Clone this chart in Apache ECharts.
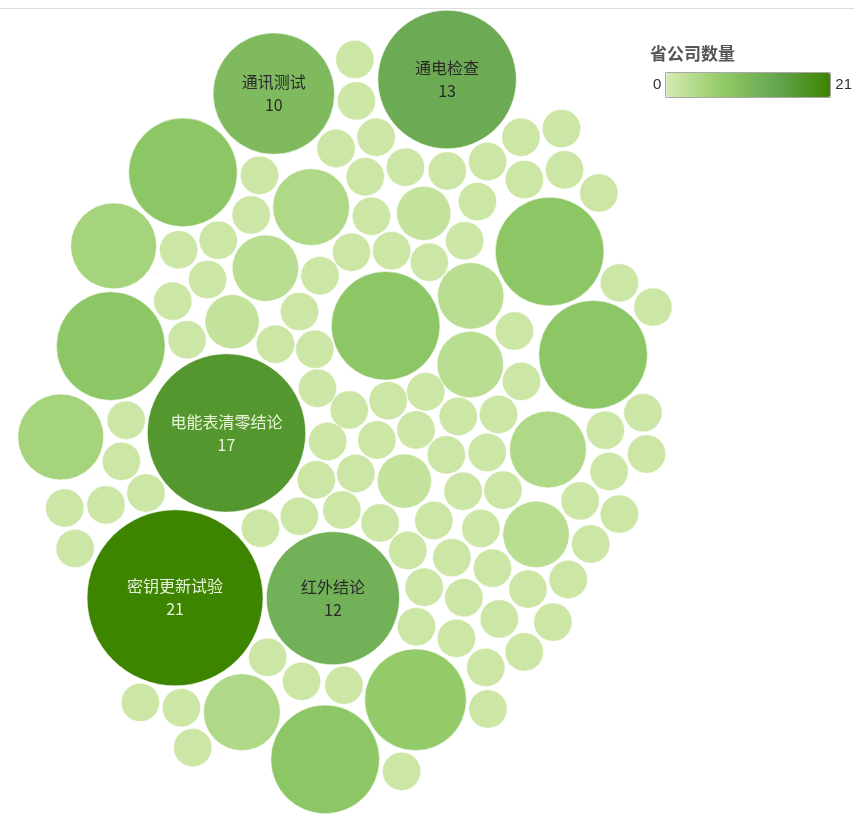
<!DOCTYPE html>
<html>
<head>
<meta charset="utf-8">
<script src="https://cdn.jsdelivr.net/npm/echarts@6/dist/echarts.min.js"></script>
<style>
  html, body { margin: 0; padding: 0; background: #fff; }
  #chart { width: 854px; height: 815px; }
</style>
</head>
<body>
<div id="chart"></div>
<script>
// 各检测项的省公司数量（按气泡排列顺序）
const bubbleCounts = [
  1, 1, 1, 1, 1, 3, 1, 8, 1, 1,
  1, 2, 1, 1, 1, 1, 1, 1, 3, 1,
  1, 1, 1, 1, 1, 1, 1, 1, 1, 3,
  1, 2, 1, 2, 4, 1, 1, 1, 1, 1,
  1, 3, 1, 1, 1, 1, 1, 1, 12, 4,
  1, 17, 1, 1, 1, 1, 21, 1, 1, 1,
  8, 1, 1, 1, 1, 1, 1, 1, 8, 4,
  1, 1, 5, 1, 1, 1, 1, 1, 1, 1,
  8, 1, 1, 1, 1, 1, 1, 7, 1, 1,
  1, 1, 1, 1, 1, 8, 10, 1, 1, 1,
  1, 5, 1, 1, 1, 1, 1, 1, 1, 8,
  1, 1, 13
];
// 气泡名称（只有带名称的气泡显示标签）
const bubbleNames = [
  '', '', '', '', '', '', '', '', '', '',
  '', '', '', '', '', '', '', '', '', '',
  '', '', '', '', '', '', '', '', '', '',
  '', '', '', '', '', '', '', '', '', '',
  '', '', '', '', '', '', '', '', '红外结论', '',
  '', '电能表清零结论', '', '', '', '', '密钥更新试验', '', '', '',
  '', '', '', '', '', '', '', '', '', '',
  '', '', '', '', '', '', '', '', '', '',
  '', '', '', '', '', '', '', '', '', '',
  '', '', '', '', '', '', '通讯测试', '', '', '',
  '', '', '', '', '', '', '', '', '', '',
  '', '', '通电检查'
];
const legendTitle = '省公司数量';
const countMin = 0;
const countMax = 21;
const legendText = ['21', '0'];
const colorStops = ['#d6ebb0', '#93cb68', '#65a650', '#3d8400'];

// 气泡半径与数量的平方根成正比
const RADIUS_UNIT = 19.2;
const GAP = 3;
const WIDTH = 854, HEIGHT = 815;
const CENTER = [345, 412];
const TILT = 12 * Math.PI / 180;   // 收缩主轴的倾斜角

// 力导向式气泡堆积：向日葵螺旋初始位置 + 向心收缩 + 碰撞分离
function packBubbles(counts) {
  const golden = Math.PI * (3 - Math.sqrt(5));
  const spread = 33;
  const nodes = counts.map((c, i) => {
    const rad = spread * Math.sqrt(i + 0.5);
    const a = i * golden;
    return { r: RADIUS_UNIT * Math.sqrt(c), x: rad * Math.cos(a) * 0.9, y: rad * Math.sin(a) * 1.1 };
  });
  const n = nodes.length;
  function collide() {
    for (let i = 0; i < n; i++) {
      const a = nodes[i];
      for (let j = i + 1; j < n; j++) {
        const b = nodes[j];
        let dx = b.x - a.x, dy = b.y - a.y;
        let d = Math.sqrt(dx * dx + dy * dy);
        const minD = a.r + b.r + GAP;
        if (d < minD) {
          if (d < 1e-6) { dx = 0.01 * (j - i); dy = 0.01; d = Math.sqrt(dx * dx + dy * dy); }
          const push = (minD - d) / d;
          const ma = a.r * a.r, mb = b.r * b.r;
          const wa = mb / (ma + mb), wb = ma / (ma + mb);
          a.x -= dx * push * wa; a.y -= dy * push * wa;
          b.x += dx * push * wb; b.y += dy * push * wb;
        }
      }
    }
  }
  const ct = Math.cos(TILT), st = Math.sin(TILT);
  const gu = 0.03, gv = 0.017;
  for (let it = 0; it < 400; it++) {
    for (const p of nodes) {
      let u = p.x * ct + p.y * st, v = -p.x * st + p.y * ct;
      u -= u * gu; v -= v * gv;
      p.x = u * ct - v * st; p.y = u * st + v * ct;
    }
    for (let k = 0; k < 4; k++) collide();
  }
  for (let k = 0; k < 40; k++) collide();
  let x0 = Infinity, x1 = -Infinity, y0 = Infinity, y1 = -Infinity;
  for (const p of nodes) {
    x0 = Math.min(x0, p.x - p.r); x1 = Math.max(x1, p.x + p.r);
    y0 = Math.min(y0, p.y - p.r); y1 = Math.max(y1, p.y + p.r);
  }
  const ox = CENTER[0] - (x0 + x1) / 2, oy = CENTER[1] - (y0 + y1) / 2;
  nodes.forEach(p => { p.x += ox; p.y += oy; });
  return nodes;
}

const nodes = packBubbles(bubbleCounts);
const seriesData = nodes.map((p, i) => ({
  name: bubbleNames[i],
  value: [p.x, p.y, bubbleCounts[i]],
  label: {
    show: bubbleNames[i] !== '',
    color: bubbleCounts[i] >= 15 ? '#e8f3da' : '#2a2a2a'
  }
}));

const chart = echarts.init(document.getElementById('chart'));
chart.setOption({
  animation: false,
  title: {
    text: legendTitle,
    left: 645,
    top: 40,
    textStyle: { fontSize: 17, fontWeight: 'bold', color: '#555', fontFamily: 'Noto Sans CJK SC' }
  },
  grid: { left: 0, right: 0, top: 0, bottom: 0 },
  xAxis: { type: 'value', min: 0, max: WIDTH, show: false },
  yAxis: { type: 'value', min: 0, max: HEIGHT, inverse: true, show: false },
  visualMap: {
    type: 'continuous',
    min: countMin,
    max: countMax,
    dimension: 2,
    orient: 'horizontal',
    left: 653,
    top: 73,
    padding: 0,
    itemWidth: 24,
    itemHeight: 164,
    text: legendText,
    textGap: 5,
    calculable: false,
    inRange: { color: colorStops },
    textStyle: { color: '#333', fontSize: 15, fontFamily: 'Arial, Liberation Sans, sans-serif' }
  },
  series: [{
    type: 'scatter',
    data: seriesData,
    symbolSize: v => 2 * RADIUS_UNIT * Math.sqrt(v[2]),
    itemStyle: { opacity: 1, borderColor: 'rgba(255,255,255,0.55)', borderWidth: 1 },
    label: {
      position: 'inside',
      formatter: p => p.name + '\n' + p.value[2],
      fontSize: 16,
      lineHeight: 23,
      fontFamily: 'Noto Sans CJK SC'
    }
  }],
  graphic: [{
    type: 'line',
    shape: { x1: 0, y1: 8.5, x2: WIDTH, y2: 8.5 },
    style: { stroke: '#dcdcdc', lineWidth: 1 }
  }, {
    type: 'rect',
    z: 100,
    shape: { x: 665.5, y: 72.5, width: 165, height: 25 },
    style: { fill: 'none', stroke: '#a8a8a8', lineWidth: 1 }
  }]
});
</script>
</body>
</html>
